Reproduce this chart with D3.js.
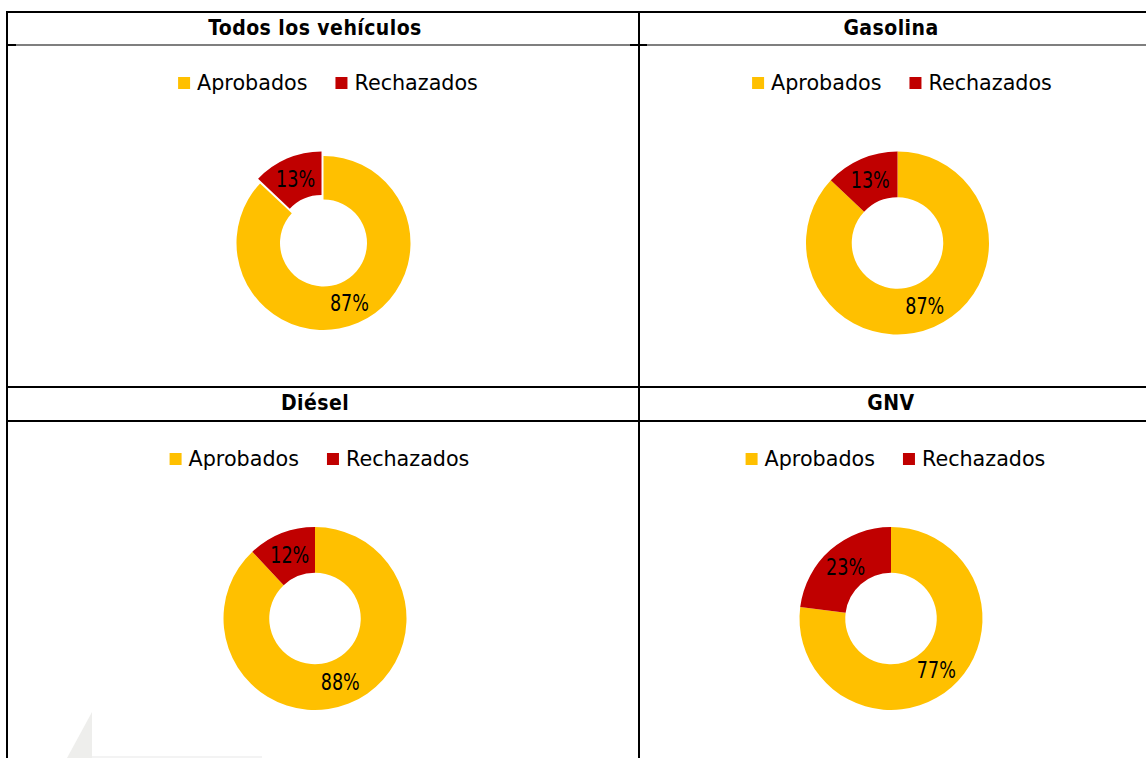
<!DOCTYPE html>
<html>
<head>
<meta charset="utf-8">
<script src="https://cdn.jsdelivr.net/npm/d3@7"></script>
<style>
    html, body { margin: 0; padding: 0; background: #fff; }
    svg { display: block; }
</style>
</head>
<body>
<div id="chart"></div>
<script>
// Panel titles and values
const panels = ['Todos los vehículos', 'Gasolina', 'Diésel', 'GNV'];
const categories = ['Aprobados', 'Rechazados'];
const aprobados = [87, 87, 88, 77];
const rechazados = [13, 13, 12, 23];
const colors = ['#FFC000', '#C00000'];

const width = 1146;
const height = 758;
const titleFont = '"DejaVu Sans Condensed", "DejaVu Sans", sans-serif';
const legendFont = '"DejaVu Sans", sans-serif';
const labelFont = '"DejaVu Sans Condensed", sans-serif';

// Table grid
const colX = [7, 639, 1160];
const rowY = [12, 45, 387, 421, 800];

// Donut placement for each panel
const layout = [
    { cx: 323.5, cy: 243, r: 87, titleX: 315, legendY: 83, explode: 5 },
    { cx: 897.5, cy: 243, r: 91.5, titleX: 891, legendY: 83, explode: 0 },
    { cx: 315, cy: 618.5, r: 91.5, titleX: 315, legendY: 459, explode: 0 },
    { cx: 891, cy: 618.5, r: 91.5, titleX: 891, legendY: 459, explode: 0 }
];

const svg = d3.select('#chart')
    .append('svg')
    .attr('width', width)
    .attr('height', height);

// Faint watermark in the bottom left corner
svg.append('path')
    .attr('d', 'M92,712 L92,758 L67,758 Z')
    .attr('fill', '#eeeeec');
svg.append('rect')
    .attr('x', 92).attr('y', 756).attr('width', 170).attr('height', 2)
    .attr('fill', '#f3f3f3');

const color = d3.scaleOrdinal()
    .domain(categories)
    .range(colors);

const pie = d3.pie()
    .sort(null)
    .value(d => d.value);

panels.forEach((title, i) => {
    const L = layout[i];
    const data = [
        { name: categories[0], value: aprobados[i] },
        { name: categories[1], value: rechazados[i] }
    ];

    const g = svg.append('g').attr('class', 'panel');

    // Title
    g.append('text')
        .attr('x', L.titleX)
        .attr('y', i < 2 ? 28 : 403)
        .attr('text-anchor', 'middle')
        .attr('dominant-baseline', 'central')
        .attr('font-family', titleFont)
        .attr('font-weight', 'bold')
        .attr('font-size', '21px')
        .attr('letter-spacing', '0.45px')
        .attr('fill', '#000')
        .text(title);

    // Legend
    const legend = g.append('g').attr('class', 'legend');
    let lx = 0;
    categories.forEach((c, k) => {
        const item = legend.append('g').attr('transform', `translate(${lx},0)`);
        item.append('rect')
            .attr('x', 0).attr('y', -6)
            .attr('width', 12).attr('height', 12)
            .attr('fill', color(c));
        const t = item.append('text')
            .attr('x', 19)
            .attr('y', 0)
            .attr('dominant-baseline', 'central')
            .attr('font-family', legendFont)
            .attr('font-size', '20.7px')
            .attr('fill', '#000')
            .text(c);
        lx += 19 + t.node().getComputedTextLength() + 28;
    });
    const legendWidth = lx - 28;
    legend.attr('transform', `translate(${L.cx + 4.5 - legendWidth / 2},${L.legendY})`);

    // Donut
    const arc = d3.arc()
        .innerRadius(L.r * 0.5)
        .outerRadius(L.r);
    const labelArc = d3.arc()
        .innerRadius(L.r * 0.75)
        .outerRadius(L.r * 0.75);

    const donut = g.append('g')
        .attr('transform', `translate(${L.cx},${L.cy})`);

    const slices = donut.selectAll('g.slice')
        .data(pie(data))
        .join('g')
        .attr('class', 'slice')
        .attr('transform', d => {
            if (!L.explode || d.data.name !== categories[1]) return null;
            const a = (d.startAngle + d.endAngle) / 2;
            return `translate(${Math.sin(a) * L.explode},${-Math.cos(a) * L.explode})`;
        });

    slices.append('path')
        .attr('d', arc)
        .attr('fill', d => color(d.data.name));

    // Labels: narrow and tall, squeezed horizontally
    slices.append('text')
        .attr('transform', d => `translate(${labelArc.centroid(d)}) scale(0.85,1)`)
        .attr('text-anchor', 'middle')
        .attr('dominant-baseline', 'central')
        .attr('font-family', labelFont)
        .attr('font-size', '23px')
        .attr('fill', '#000')
        .text(d => `${d.data.value}%`);
});

// Table borders
const lines = svg.append('g').attr('class', 'grid').attr('stroke', '#000');

lines.append('line')
    .attr('x1', colX[0] - 1).attr('x2', width)
    .attr('y1', rowY[0]).attr('y2', rowY[0])
    .attr('stroke-width', 2);
lines.append('line')
    .attr('x1', colX[0]).attr('x2', width)
    .attr('y1', rowY[1]).attr('y2', rowY[1])
    .attr('stroke-width', 1.2);
[[colX[0], colX[0] + 9], [colX[1] - 9, colX[1] + 8]].forEach(([a, b]) => {
    lines.append('line')
        .attr('x1', a).attr('x2', b)
        .attr('y1', rowY[1]).attr('y2', rowY[1])
        .attr('stroke-width', 2);
});
[rowY[2], rowY[3]].forEach(y => {
    lines.append('line')
        .attr('x1', colX[0]).attr('x2', width)
        .attr('y1', y).attr('y2', y)
        .attr('stroke-width', 2.2);
});
[colX[0], colX[1]].forEach(x => {
    lines.append('line')
        .attr('x1', x).attr('x2', x)
        .attr('y1', rowY[0] - 1).attr('y2', height)
        .attr('stroke-width', 2);
});
</script>
</body>
</html>
